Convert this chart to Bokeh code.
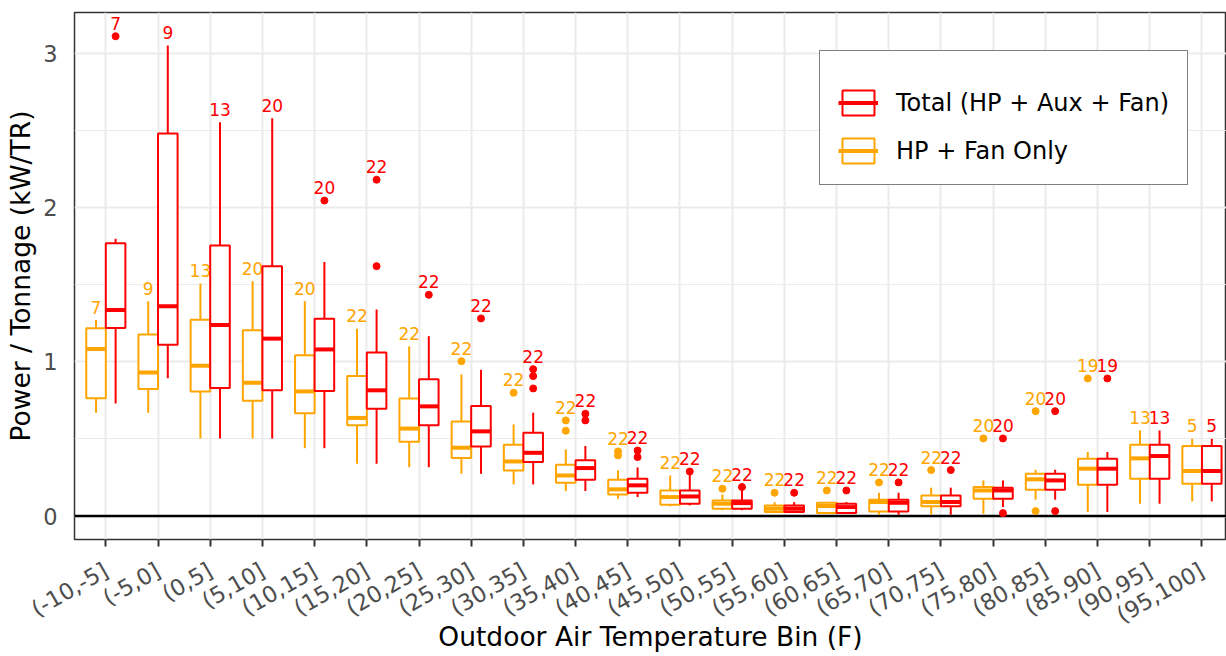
import math
from bokeh.plotting import figure
from bokeh.models import ColumnDataSource, Range1d, FixedTicker, Legend, LegendItem, Span
from bokeh.transform import dodge
from bokeh.core.properties import value
from bokeh.embed import file_html
from bokeh.resources import INLINE

# ---------------- data ----------------
cats = ["(-10,-5]", "(-5,0]", "(0,5]", "(5,10]", "(10,15]", "(15,20]", "(20,25]",
        "(25,30]", "(30,35]", "(35,40]", "(40,45]", "(45,50]", "(50,55]", "(55,60]",
        "(60,65]", "(65,70]", "(70,75]", "(75,80]", "(80,85]", "(85,90]", "(90,95]",
        "(95,100]"]

counts = [7, 9, 13, 20, 20, 22, 22, 22, 22, 22, 22, 22, 22, 22, 22, 22, 22, 20, 20, 19, 13, 5]

# HP + Fan Only
hp_lower = [0.67, 0.67, 0.502, 0.502, 0.44, 0.339, 0.317, 0.274, 0.205, 0.162, 0.112,
            0.063, 0.037, 0.02, 0.015, 0.009, 0.009, 0.015, 0.106, 0.026, 0.08, 0.095]
hp_q1 = [0.763, 0.824, 0.808, 0.748, 0.667, 0.589, 0.482, 0.376, 0.296, 0.216, 0.14,
         0.073, 0.048, 0.026, 0.019, 0.03, 0.063, 0.112, 0.171, 0.203, 0.242, 0.21]
hp_med = [1.083, 0.93, 0.975, 0.864, 0.808, 0.636, 0.567, 0.443, 0.354, 0.263, 0.173,
          0.123, 0.08, 0.048, 0.065, 0.091, 0.091, 0.166, 0.238, 0.307, 0.374, 0.292]
hp_q3 = [1.217, 1.176, 1.272, 1.205, 1.042, 0.908, 0.762, 0.613, 0.462, 0.333, 0.235,
         0.166, 0.10, 0.069, 0.086, 0.106, 0.134, 0.188, 0.274, 0.371, 0.462, 0.454]
hp_upper = [1.27, 1.393, 1.507, 1.522, 1.393, 1.214, 1.10, 0.918, 0.594, 0.432, 0.296,
            0.263, 0.14, 0.09, 0.091, 0.151, 0.184, 0.231, 0.30, 0.415, 0.555, 0.501]
hp_out_bin = [8, 9, 10, 10, 11, 11, 13, 14, 15, 16, 17, 18, 19, 19, 20]
hp_out_val = [1.004, 0.799, 0.62, 0.553, 0.419, 0.393, 0.177, 0.151, 0.166, 0.218,
              0.298, 0.503, 0.68, 0.032, 0.892]

# Total (HP + Aux + Fan)
tot_lower = [0.73, 0.893, 0.502, 0.502, 0.44, 0.339, 0.317, 0.274, 0.205, 0.162, 0.123,
             0.069, 0.037, 0.02, 0.015, 0.009, 0.009, 0.058, 0.106, 0.026, 0.08, 0.095]
tot_q1 = [1.219, 1.11, 0.83, 0.815, 0.81, 0.696, 0.588, 0.451, 0.35, 0.235, 0.151,
          0.08, 0.048, 0.026, 0.02, 0.03, 0.063, 0.112, 0.171, 0.203, 0.242, 0.21]
tot_med = [1.335, 1.36, 1.239, 1.15, 1.08, 0.815, 0.711, 0.549, 0.41, 0.311, 0.199,
           0.127, 0.084, 0.048, 0.058, 0.086, 0.091, 0.166, 0.231, 0.307, 0.389, 0.292]
tot_q3 = [1.768, 2.48, 1.754, 1.62, 1.279, 1.06, 0.886, 0.713, 0.54, 0.361, 0.242,
          0.166, 0.10, 0.069, 0.08, 0.106, 0.134, 0.184, 0.274, 0.371, 0.462, 0.454]
tot_upper = [1.797, 3.05, 2.553, 2.578, 1.647, 1.339, 1.166, 0.948, 0.67, 0.454, 0.315,
             0.27, 0.17, 0.09, 0.091, 0.151, 0.184, 0.231, 0.30, 0.415, 0.555, 0.501]
tot_out_bin = [1, 5, 6, 6, 7, 8, 9, 9, 9, 10, 10, 11, 11, 12, 13, 14, 15, 16, 17, 18, 18,
               19, 19, 20]
tot_out_val = [3.11, 2.045, 2.18, 1.62, 1.434, 1.281, 0.952, 0.907, 0.827, 0.663, 0.62,
               0.425, 0.382, 0.289, 0.188, 0.151, 0.166, 0.218, 0.298, 0.503, 0.019,
               0.68, 0.032, 0.892]

series_names = ["HP + Fan Only", "Total (HP + Aux + Fan)"]
series_colors = ["#FFA500", "#FF0000"]

FONT = "DejaVu Sans"
BOX_W = 0.375

# ---------------- figure ----------------
p = figure(width=1226, height=656, output_backend="svg", toolbar_location=None,
           x_range=Range1d(0.4, 22.47), y_range=Range1d(-0.152, 3.264),
           min_border_left=74, min_border_right=0, min_border_top=12,
           min_border_bottom=117)
p.background_fill_color = "white"
p.border_fill_color = "white"
p.outline_line_color = "#333333"
p.outline_line_width = 1.5

xpos = list(range(1, len(cats) + 1))

zero = Span(location=0, dimension="width", line_color="black", line_width=2.5,
            level="underlay")
p.add_layout(zero)


def draw(lower, q1, med, q3, upper, out_bin, out_val, offset, color):
    tops = []
    for k, u in enumerate(upper):
        vals = [v for b, v in zip(out_bin, out_val) if b == k + 1]
        tops.append(max([u] + vals))
    src = ColumnDataSource(dict(x=xpos, lower=lower, q1=q1, med=med, q3=q3,
                                upper=upper, top=tops, n=[str(c) for c in counts]))
    osrc = ColumnDataSource(dict(x=out_bin, y=out_val))
    p.segment(x0=dodge("x", offset, range=p.x_range), x1=dodge("x", offset, range=p.x_range),
              y0="q3", y1="upper", source=src, line_color=color, line_width=2)
    p.segment(x0=dodge("x", offset, range=p.x_range), x1=dodge("x", offset, range=p.x_range),
              y0="lower", y1="q1", source=src, line_color=color, line_width=2)
    box = p.vbar(x=dodge("x", offset, range=p.x_range), width=BOX_W, top="q3", bottom="q1",
                 source=src, fill_color="white", line_color=color, line_width=2)
    medr = p.segment(x0=dodge("x", offset - BOX_W / 2, range=p.x_range),
                     x1=dodge("x", offset + BOX_W / 2, range=p.x_range),
                     y0="med", y1="med", source=src, line_color=color, line_width=4)
    p.scatter(x=dodge("x", offset, range=p.x_range), y="y", source=osrc, size=7,
              fill_color=color, line_color=color)
    p.text(x=dodge("x", offset, range=p.x_range), y="top", text="n", source=src,
           text_align="center", text_baseline="alphabetic", y_offset=-13,
           text_font=value(FONT), text_font_size="17px", text_color=color)
    return box, medr


hp_box, hp_medr = draw(hp_lower, hp_q1, hp_med, hp_q3, hp_upper, hp_out_bin, hp_out_val,
                       -BOX_W / 2, series_colors[0])
tot_box, tot_medr = draw(tot_lower, tot_q1, tot_med, tot_q3, tot_upper, tot_out_bin,
                         tot_out_val, BOX_W / 2, series_colors[1])

# ---------------- axes & grid ----------------
p.xaxis.ticker = FixedTicker(ticks=xpos)
p.xaxis.major_label_overrides = {i: c for i, c in zip(xpos, cats)}
p.xaxis.major_label_orientation = math.pi / 6
p.xaxis.axis_label = "Outdoor Air Temperature Bin (F)"
p.yaxis.ticker = FixedTicker(ticks=[0, 1, 2, 3], minor_ticks=[0.5, 1.5, 2.5])
p.yaxis.axis_label = "Power / Tonnage (kW/TR)"

for ax in (p.xaxis[0], p.yaxis[0]):
    ax.axis_line_color = None
    ax.minor_tick_line_color = None
    ax.major_tick_in = 0
    ax.major_label_text_font = FONT
    ax.major_label_text_font_size = "22.5px"
    ax.major_label_text_color = "#4D4D4D"
    ax.axis_label_text_font = FONT
    ax.axis_label_text_font_size = "26.5px"
    ax.axis_label_text_font_style = "normal"
    ax.axis_label_text_color = "black"

p.xaxis.major_tick_out = 7
p.xaxis.major_tick_line_color = "#333333"
p.xaxis.major_tick_line_width = 2
p.xaxis.major_label_standoff = 22
p.xaxis.axis_label_standoff = -21
p.yaxis.major_tick_out = 0
p.yaxis.major_label_standoff = 13
p.yaxis.axis_label_standoff = 4

p.xgrid.grid_line_color = "#EBEBEB"
p.xgrid.grid_line_width = 2
p.ygrid.grid_line_color = "#EBEBEB"
p.ygrid.grid_line_width = 2
p.ygrid.minor_grid_line_color = "#EBEBEB"
p.ygrid.minor_grid_line_width = 1

# ---------------- legend ----------------
legend = Legend(items=[LegendItem(label=series_names[1], renderers=[tot_box, tot_medr]),
                       LegendItem(label=series_names[0], renderers=[hp_box, hp_medr])],
                location=(745, 354), margin=0, padding=18, spacing=17,
                title=" ", title_text_font_size="12px", title_standoff=4,
                glyph_width=40, glyph_height=31, label_height=31, label_standoff=18,
                label_text_font=FONT, label_text_font_size="24px",
                label_text_color="black",
                border_line_color="black", border_line_width=1.5,
                background_fill_color="white", background_fill_alpha=1.0)
p.add_layout(legend)

open("out.html", "w").write(file_html(p, INLINE))
